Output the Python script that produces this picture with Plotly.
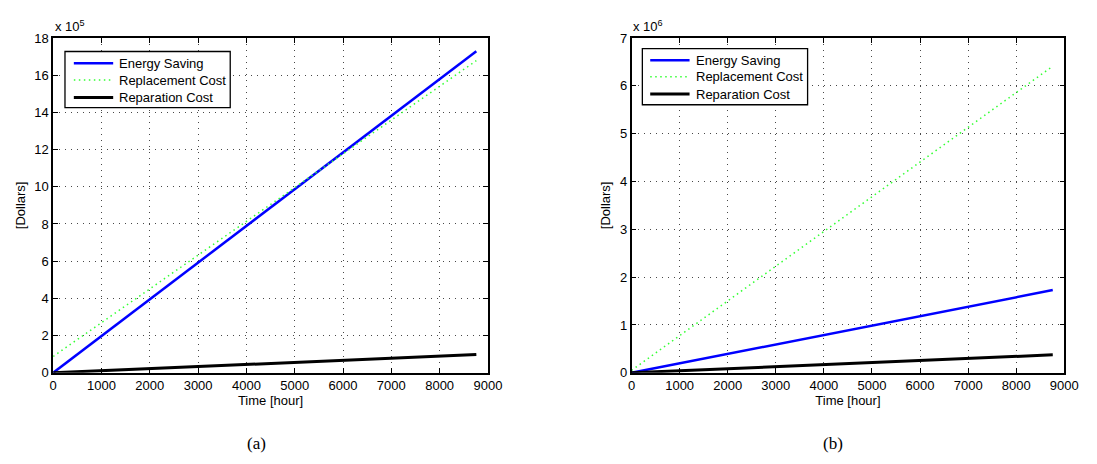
import plotly.graph_objects as go

# Hours across one year
hours = [0, 8760]

# Panel (a) costs in dollars
saving_a = [0, 1.729e6]
replacement_a = [0.88e5, 1.678e6]
reparation_a = [0, 0.98e5]

# Panel (b) costs in dollars
saving_b = [0, 1.729e6]
replacement_b = [0.05e6, 6.41e6]
reparation_b = [0, 0.375e6]

x_ticks = [0, 1000, 2000, 3000, 4000, 5000, 6000, 7000, 8000, 9000]
y_ticks_a = list(range(0, 19, 2))
y_ticks_b = list(range(0, 8))

series_names = ["Energy Saving", "Replacement Cost", "Reparation Cost"]
colors = ["#0000ff", "#33ff33", "#000000"]
dashes = ["solid", "1.5px,3.5px", "solid"]
widths = [2.5, 1.5, 3]

FONT = "Liberation Sans, Arial, Helvetica, sans-serif"
FS = 13
W, H = 1097, 464

fig = go.Figure()

panels = [
    ("x", "y", [saving_a, replacement_a, reparation_a], 1e5),
    ("x2", "y2", [saving_b, replacement_b, reparation_b], 1e6),
]
for xa, ya, data, scale in panels:
    for name, vals, c, d, w in zip(series_names, data, colors, dashes, widths):
        fig.add_trace(go.Scatter(
            x=hours, y=[v / scale for v in vals], mode="lines", name=name,
            line=dict(color=c, dash=d, width=w), xaxis=xa, yaxis=ya,
            showlegend=False,
        ))

axis_common = dict(
    showline=True, linecolor="black", linewidth=1.5, mirror="ticks",
    ticks="inside", ticklen=5, tickcolor="black",
    showgrid=True, gridcolor="rgba(40,40,40,0.85)", griddash="1px,5px", gridwidth=1,
    zeroline=False, tickfont=dict(family=FONT, size=FS, color="black"),
)

xdom_a = [50 / W, 492 / W]
xdom_b = [638 / W, 1078 / W]
ydom = [(H - 378) / H, (H - 32) / H]

fig.update_layout(
    width=W, height=H, margin=dict(l=0, r=0, t=0, b=0),
    paper_bgcolor="white", plot_bgcolor="white",
    font=dict(family=FONT, size=FS, color="black"),
    showlegend=False,
    xaxis=dict(domain=xdom_a, range=[0, 9000], tickvals=x_ticks, anchor="y",
               title=dict(text="Time [hour]", standoff=1, font=dict(size=FS)), **axis_common),
    yaxis=dict(domain=ydom, range=[0, 18], tickvals=y_ticks_a, anchor="x",
               title=dict(text="[Dollars]", standoff=6, font=dict(size=FS)), **axis_common),
    xaxis2=dict(domain=xdom_b, range=[0, 9000], tickvals=x_ticks, anchor="y2",
                title=dict(text="Time [hour]", standoff=1, font=dict(size=FS)), **axis_common),
    yaxis2=dict(domain=ydom, range=[0, 7], tickvals=y_ticks_b, anchor="x2",
                title=dict(text="[Dollars]", standoff=6, font=dict(size=FS)), **axis_common),
)

# Legend boxes drawn in pixel space: (box left, top, right, bottom), row centres, sample x0, x1, text x
legends = [
    ((62, 46, 230, 104), [58, 75.5, 93.5], 71, 111, 115),
    ((649, 43, 817, 101), [55, 72, 90], 657, 697, 702),
]
for (bx0, by0, bx1, by1), rows, sx0, sx1, tx in legends:
    fig.add_shape(type="rect", xref="paper", yref="paper",
                  x0=bx0 / W, x1=bx1 / W, y0=(H - by1) / H, y1=(H - by0) / H,
                  line=dict(color="black", width=1.3), fillcolor="white", layer="above")
    for name, c, d, w, ry in zip(series_names, colors, dashes, widths, rows):
        fig.add_shape(type="line", xref="paper", yref="paper",
                      x0=sx0 / W, x1=sx1 / W, y0=(H - ry) / H, y1=(H - ry) / H,
                      line=dict(color=c, dash=d, width=w), layer="above")
        fig.add_annotation(text=name, xref="paper", yref="paper", x=tx / W, y=(H - ry) / H,
                           xanchor="left", yanchor="middle", showarrow=False,
                           font=dict(family=FONT, size=FS, color="black"))

for txt, xl in [("x 10<sup>5</sup>", 50), ("x 10<sup>6</sup>", 637)]:
    fig.add_annotation(text=txt, xref="paper", yref="paper", x=xl / W, y=(H - 20) / H,
                       xanchor="left", yanchor="middle", showarrow=False,
                       font=dict(family=FONT, size=FS, color="black"))

for txt, xc in [("(a)", 257), ("(b)", 843)]:
    fig.add_annotation(text=txt, xref="paper", yref="paper", x=xc / W, y=(H - 451) / H,
                       xanchor="center", yanchor="middle", showarrow=False,
                       font=dict(family="Liberation Serif, DejaVu Serif, serif", size=17,
                                 color="black"))

fig.write_html("out.html")
